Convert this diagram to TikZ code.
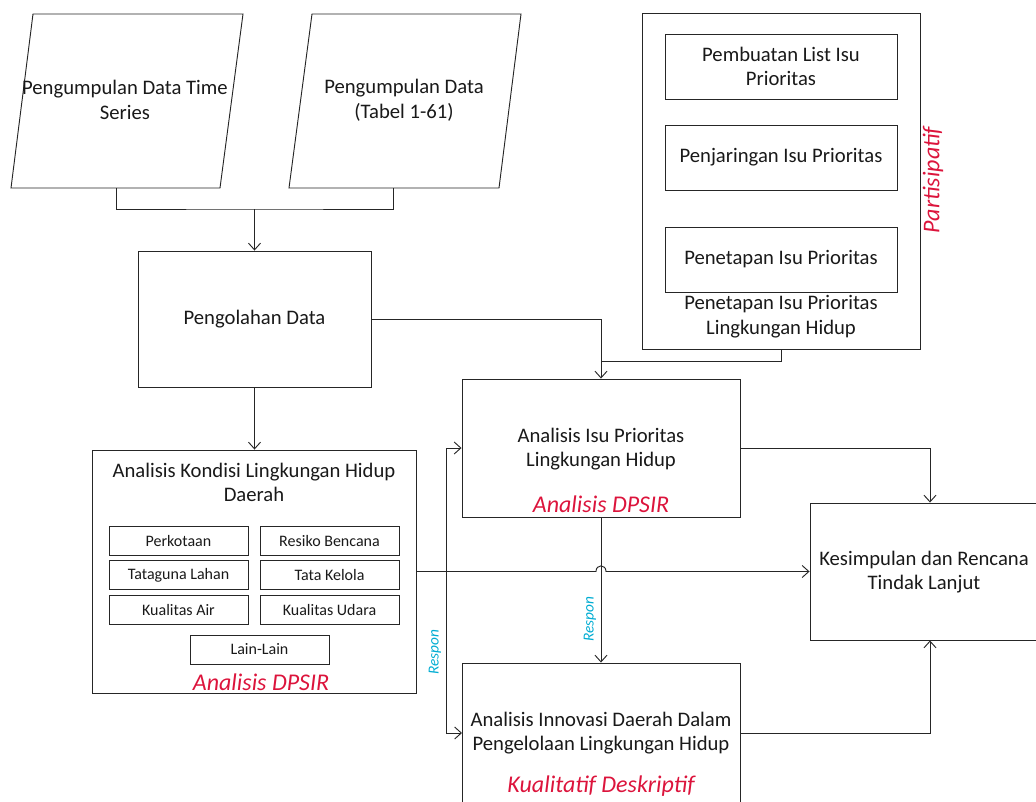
\documentclass[tikz,border=0pt]{standalone}
\usepackage{fontspec}
\setmainfont{Carlito}
\usepackage{tikz}
\usetikzlibrary{arrows.meta}
\definecolor{dpsirred}{RGB}{220,20,60}
\definecolor{responcyan}{RGB}{0,172,210}

\begin{document}
\begin{tikzpicture}[x=0.75pt,y=-0.75pt]
\def\pxu{0.75pt}
\tikzset{mybox/.style={draw=black!85,line width=0.7pt,inner sep=0pt},
  mytext/.style={align=center,text=black!90,font=\fontsize{15.5}{18.5}\selectfont},
  mysmall/.style={mybox,minimum width=139*\pxu,minimum height=29*\pxu,text=black!90,font=\fontsize{12}{14}\selectfont},
  myinner/.style={mybox,mytext,minimum width=232*\pxu,minimum height=65*\pxu},
  myred/.style={text=dpsirred,font=\fontsize{18}{21}\selectfont\itshape},
  mycyan/.style={text=responcyan,font=\fontsize{11.5}{13}\selectfont\itshape},
  myline/.style={draw=black!85,line width=0.7pt},
  myarrow/.style={myline,-{Straight Barb[length=5pt,width=9pt]}}}
\useasboundingbox (0,0) rectangle (1036,801);
\clip (0,0) rectangle (1036,801);

\draw[myline] (33,14) -- (243,14) -- (220,188) -- (11,188) -- cycle;
\node[mytext] (p1) at (125,100) {Pengumpulan Data Time\\Series};
\draw[myline] (312,14) -- (521,14) -- (499,188) -- (289,188) -- cycle;
\node[mytext] (p2) at (404,100) {Pengumpulan Data\\(Tabel 1-61)};
\coordinate (p1b) at (116,188);
\coordinate (p2b) at (393,188);
\coordinate (join) at (254.5,209);

\node[mybox,mytext,minimum width=233*\pxu,minimum height=136*\pxu] (olah) at (254.5,319) {Pengolahan Data};

\node[mybox,minimum width=324*\pxu,minimum height=243*\pxu] (kondisi) at (254.5,571.5) {};
\node[mytext] (kondisijudul) at (254,482.5) {Analisis Kondisi Lingkungan Hidup\\Daerah};
\node[mysmall] (kota) at (178.5,540.5) {Perkotaan};
\node[mysmall] (bencana) at (329.5,540.5) {Resiko Bencana};
\node[mysmall] (lahan) at (178.5,575) {Tataguna Lahan};
\node[mysmall] (kelola) at (329.5,575) {Tata Kelola};
\node[mysmall] (air) at (178.5,610) {Kualitas Air};
\node[mysmall] (udara) at (329.5,610) {Kualitas Udara};
\node[mysmall] (lain) at (259.5,649.5) {Lain-Lain};
\node[myred] (dpsirkondisi) at (261,682) {Analisis DPSIR};

\node[mybox,minimum width=278*\pxu,minimum height=138*\pxu] (isu) at (601,448) {};
\node[mytext] (isujudul) at (601,449) {Analisis Isu Prioritas\\Lingkungan Hidup};
\node[myred] (dpsirisu) at (601,504) {Analisis DPSIR};

\node[mybox,minimum width=278*\pxu,minimum height=170*\pxu] (inov) at (601,748) {};
\node[mytext] (inovjudul) at (601,733) {Analisis Innovasi Daerah Dalam\\Pengelolaan Lingkungan Hidup};
\node[myred] (kualitatif) at (601,786) {Kualitatif Deskriptif};

\node[mybox,minimum width=278*\pxu,minimum height=336*\pxu] (tetap) at (781,181) {};
\node[myinner] (list) at (781,66.5) {Pembuatan List Isu\\Prioritas};
\node[myinner] (jaring) at (781,157.5) {Penjaringan Isu Prioritas};
\node[myinner] (penetapan) at (781,259.5) {Penetapan Isu Prioritas};
\node[mytext] (tetapjudul) at (781,316.5) {Penetapan Isu Prioritas\\Lingkungan Hidup};
\node[myred,rotate=90] (partisipatif) at (933,180) {Partisipatif};

\node[mybox,minimum width=240*\pxu,minimum height=137*\pxu] (simpul) at (930,571.5) {};
\node[mytext] (simpuljudul) at (924,572) {Kesimpulan dan Rencana\\Tindak Lanjut};

\coordinate (merge) at (601,361);
\coordinate (split) at (446,571.5);
\coordinate (inovin) at (462,733);
\coordinate (inovout) at (740,733);

\draw[myline] (p1b) |- (join) -| (p2b);
\draw[myarrow] (join) -- (olah.north);
\draw[myarrow] (olah.south) -- (kondisi.north);
\draw[myarrow] (olah.east) -| (isu.north);
\draw[myline] (tetap.south) |- (merge);
\draw[myarrow] (isu.east) -| (simpul.north);
\draw[myarrow] (inovout) -| (simpul.south);
\draw[myline,line width=1.4pt] (kondisi.east) -- (split);
\draw[myarrow] (kondisi.east) -- (596,571.5) .. controls (596,564) and (606,564) .. (606,571.5) -- (simpul.west);
\draw[myarrow] (split) |- (isu.west);
\draw[myarrow] (split) |- node[pos=0.25,mycyan,rotate=90,anchor=south] (responkiri) {Respon} (inovin);
\draw[myarrow] (isu.south) -- node[pos=0.7,mycyan,rotate=90,anchor=south] (responkanan) {Respon} (inov.north);
\end{tikzpicture}
\end{document}
